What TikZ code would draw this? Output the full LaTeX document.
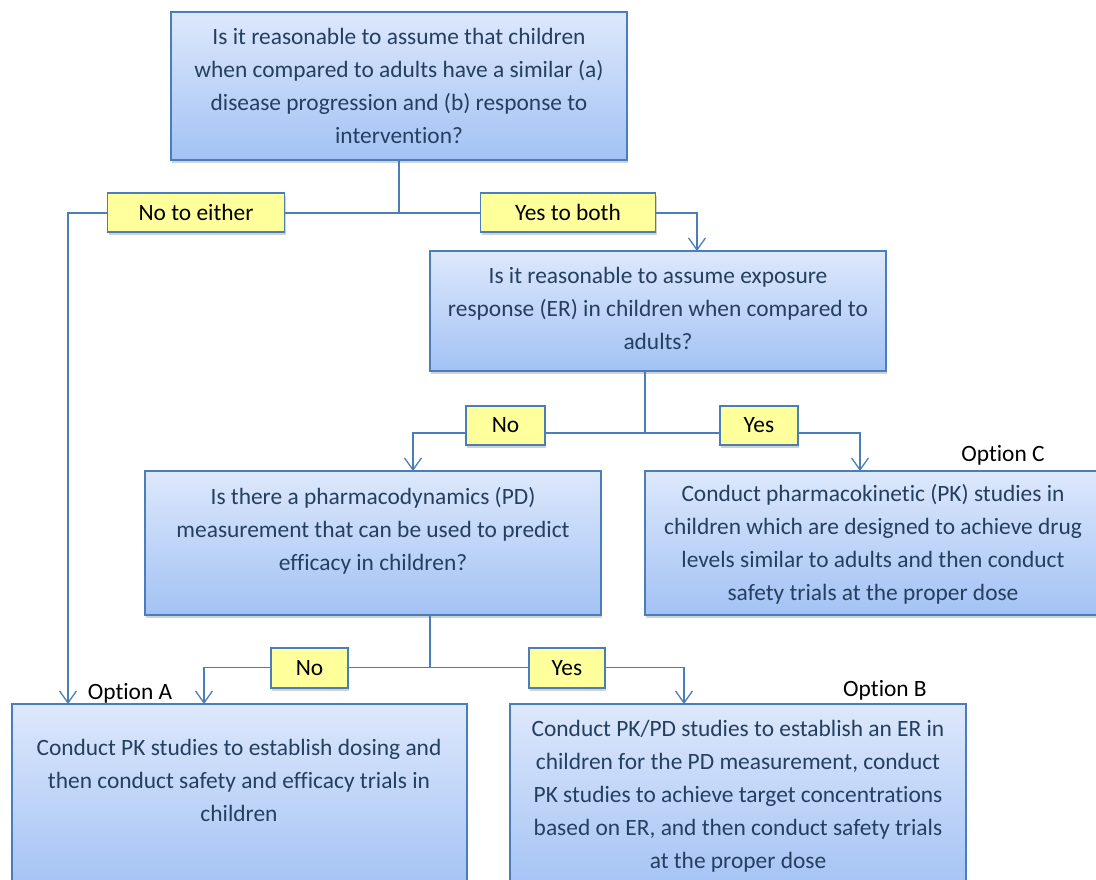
\documentclass[tikz,border=0pt]{standalone}
\usepackage{fontspec}
\setmainfont{Carlito}[RawFeature={-liga;-calt;-clig}]
\usetikzlibrary{arrows.meta,shadows}
\definecolor{bord}{HTML}{4A7EBB}
\definecolor{boxtop}{HTML}{DDE8FC}
\definecolor{boxbot}{HTML}{A3C2F4}
\definecolor{labfill}{HTML}{FFFF9C}
\definecolor{boxtext}{HTML}{243F60}
\begin{document}
\begin{tikzpicture}[x=1pt,y=1pt,
  box/.style={draw=bord, line width=1.2pt, top color=boxtop, bottom color=boxbot,
    drop shadow={shadow xshift=1pt, shadow yshift=-3pt, opacity=0.35, fill=gray},
    inner sep=0pt},
  lab/.style={draw=bord, line width=1.2pt, fill=labfill,
    drop shadow={shadow xshift=1pt, shadow yshift=-3pt, opacity=0.35, fill=gray},
    minimum height=39pt, inner sep=0pt, font=\fontsize{23.4}{28}\selectfont},
  txt/.style={align=center, inner sep=0pt, text=boxtext, font=\fontsize{23.4}{33}\selectfont},
  opt/.style={inner sep=0pt, font=\fontsize{23.4}{28}\selectfont},
  conn/.style={draw=bord, line width=1.3pt},
  arr/.style={conn, -{Straight Barb[length=12pt, width=17pt, line width=1.3pt]}}]
\useasboundingbox (0,0) rectangle (1096,-879);
\clip (0,0) rectangle (1096,-879);
\fill[white] (0,0) rectangle (1096,-879);

% boxes
\node[box, minimum width=456pt, minimum height=148pt] (b1) at (399,-86) {};
\node[box, minimum width=456pt, minimum height=120pt] (b2) at (658,-311) {};
\node[box, minimum width=456pt, minimum height=144pt] (b3) at (373,-543) {};
\node[box, minimum width=456pt, minimum height=144pt] (b4) at (873,-543) {};
\node[box, minimum width=455pt, minimum height=186pt] (b5) at (239.5,-797) {};
\node[box, minimum width=456pt, minimum height=188pt] (b6) at (738,-798) {};

% box texts
\node[txt] (t1) at (399,-85.5) {Is it reasonable to assume that children\\when compared to adults have a similar (a)\\disease progression and (b) response to\\intervention?};
\node[txt] (t2) at (658,-308.5) {Is it reasonable to assume exposure\\response (ER) in children when compared to\\adults?};
\node[txt] (t3) at (373,-531) {Is there a pharmacodynamics (PD)\\measurement that can be used to predict\\efficacy in children?};
\node[txt] (t4) at (873,-544.5) {Conduct pharmacokinetic (PK) studies in\\children which are designed to achieve drug\\levels similar to adults and then conduct\\safety trials at the proper dose};
\node[txt] (t5) at (239,-780) {Conduct PK studies to establish dosing and\\then conduct safety and efficacy trials in\\children};
\node[txt] (t6) at (738,-796) {Conduct PK/PD studies to establish an ER in\\children for the PD measurement, conduct\\PK studies to achieve target concentrations\\based on ER, and then conduct safety trials\\at the proper dose};

% labels
\node[lab, minimum width=177pt] (l1) at (196,-212.5) {No to either};
\node[lab, minimum width=175pt] (l2) at (568,-212.5) {Yes to both};
\node[lab, minimum width=79pt] (l3) at (505.5,-425.5) {No};
\node[lab, minimum width=78pt] (l4) at (759,-425.5) {Yes};
\node[lab, minimum width=77pt, minimum height=40pt] (l5) at (309.5,-668) {No};
\node[lab, minimum width=76pt, minimum height=40pt] (l6) at (567,-668) {Yes};

% option labels
\node[opt] (oc) at (1003,-455) {Option C};
\node[opt] (oa) at (130,-693) {Option A};
\node[opt] (ob) at (885,-690) {Option B};

% junctions and arrow ends
\coordinate (j1) at (399,-213);
\coordinate (j2) at (645,-433);
\coordinate (j3) at (430,-667.5);
\coordinate (a5) at (68,-704);
\coordinate (a2) at (697,-251);
\coordinate (a3) at (413,-471);
\coordinate (a4) at (860,-471);
\coordinate (a5b) at (204,-704);
\coordinate (a6) at (684,-704);

% connectors
\draw[conn] (b1.south -| j1) -- (j1);
\draw[conn] (j1) -- (l1.east |- j1);
\draw[arr] (l1.west |- j1) -| (a5);
\draw[conn] (j1) -- (l2.west |- j1);
\draw[arr] (l2.east |- j1) -| (a2);

\draw[conn] (b2.south -| j2) -- (j2);
\draw[conn] (j2) -- (l3.east |- j2);
\draw[arr] (l3.west |- j2) -| (a3);
\draw[conn] (j2) -- (l4.west |- j2);
\draw[arr] (l4.east |- j2) -| (a4);

\draw[conn] (b3.south -| j3) -- (j3);
\draw[conn] (j3) -- (l5.east |- j3);
\draw[arr] (l5.west |- j3) -| (a5b);
\draw[conn] (j3) -- (l6.west |- j3);
\draw[arr] (l6.east |- j3) -| (a6);
\end{tikzpicture}
\end{document}
